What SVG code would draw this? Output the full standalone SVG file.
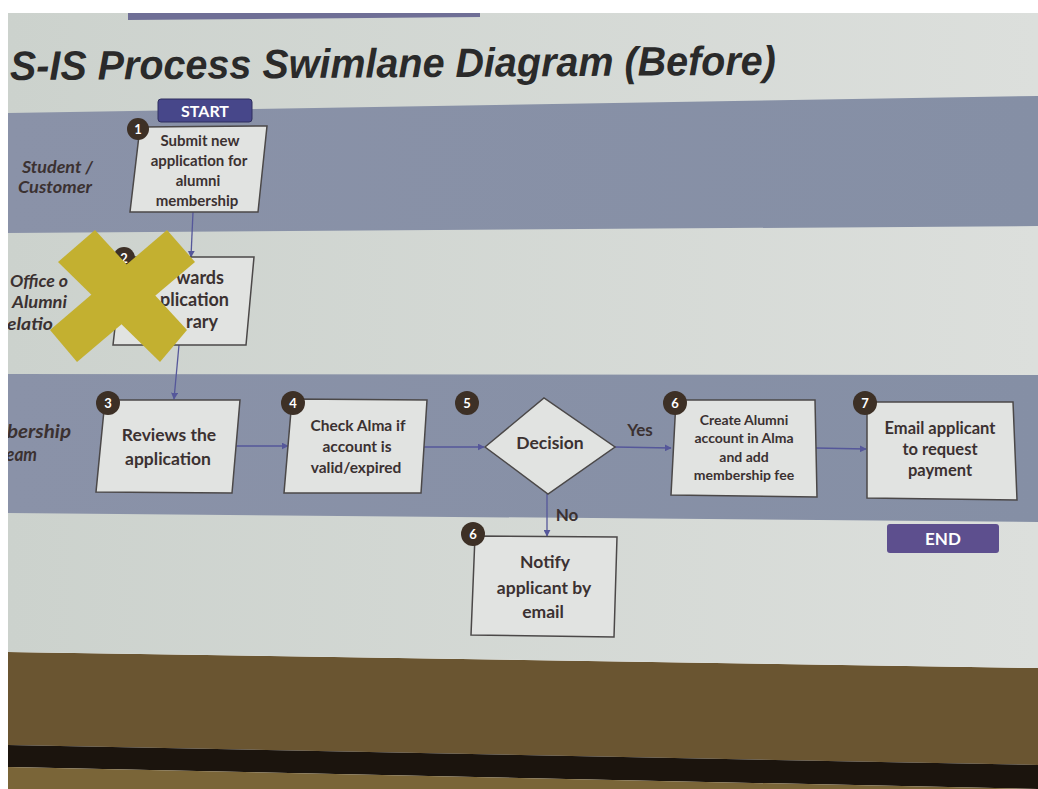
<svg xmlns="http://www.w3.org/2000/svg" width="1038" height="789" viewBox="0 0 1038 789">
<defs>
  <linearGradient id="scr" x1="0" y1="0" x2="1" y2="0">
    <stop offset="0" stop-color="#ccd2cd"/>
    <stop offset="1" stop-color="#dcdfdc"/>
  </linearGradient>
  <linearGradient id="laneDark" x1="0" y1="0" x2="1" y2="0">
    <stop offset="0" stop-color="#8a92a8"/>
    <stop offset="1" stop-color="#858fa5"/>
  </linearGradient>
  <clipPath id="screenClip"><polygon points="8,13 1038,13 1038,668 8,652"/></clipPath>
  <marker id="arr" viewBox="0 0 10 10" refX="9" refY="5" markerWidth="7" markerHeight="7" orient="auto" markerUnits="userSpaceOnUse">
    <path d="M0,0 L10,5 L0,10 z" fill="#55579a"/>
  </marker>
  <style>
    .box{fill:#e1e3e1;stroke:#4b4848;stroke-width:1.5}
    .txt{font-family:Lato,"Open Sans","Liberation Sans",sans-serif;font-weight:bold;fill:#3b3131;text-anchor:middle}
    .lane{font-family:Lato,"Open Sans","Liberation Sans",sans-serif;font-weight:bold;font-style:italic;fill:#3b3131}
    .badge{fill:#3d3026}
    .btxt{font-family:Lato,"Open Sans","Liberation Sans",sans-serif;font-weight:bold;fill:#ffffff;text-anchor:middle}
    .con{stroke:#55579a;stroke-width:1.3;fill:none}
    .xbar{fill:#c3b030}
  </style>
</defs>

<!-- room / wall -->
<rect x="0" y="0" width="1038" height="789" fill="#ffffff"/>
<polygon points="8,652 1038,668 1038,765 8,745" fill="#6a5531"/>
<polygon points="8,745 1038,765 1038,789 8,767" fill="#1b140d"/>
<polygon points="8,767 1038,789 8,789" fill="#7a6538"/>

<!-- screen -->
<polygon points="8,13 1038,13 1038,668 8,652" fill="url(#scr)"/>
<polygon points="128,13 480,13 480,17 128,20" fill="#6f6f96"/>

<g clip-path="url(#screenClip)">
  <!-- lanes -->
  <polygon id="lane1" points="8,113 1038,96 1038,226 8,233" fill="url(#laneDark)"/>
  <polygon id="lane3" points="8,374 1038,375 1038,522 8,513" fill="url(#laneDark)"/>

  <!-- title -->
  <text x="10" y="80" transform="rotate(-0.4 10 80)" font-family="'Liberation Sans',Arial,sans-serif" font-weight="bold" font-style="italic" font-size="41" fill="#2a2a2a" textLength="766" lengthAdjust="spacingAndGlyphs">S-IS Process Swimlane Diagram (Before)</text>

  <!-- lane labels -->
  <text class="lane" style="font-size:17px" x="22" y="173" textLength="71" lengthAdjust="spacingAndGlyphs">Student /</text>
  <text class="lane" style="font-size:17px" x="18" y="193" textLength="74" lengthAdjust="spacingAndGlyphs">Customer</text>
  <text class="lane" style="font-size:17px" x="10" y="287" textLength="58" lengthAdjust="spacingAndGlyphs">Office o</text>
  <text class="lane" style="font-size:17px" x="12" y="308" textLength="55" lengthAdjust="spacingAndGlyphs">Alumni</text>
  <text class="lane" style="font-size:17px" x="7" y="330" textLength="46" lengthAdjust="spacingAndGlyphs">elatio</text>
  <text class="lane" style="font-size:18px" x="7" y="438" textLength="64" lengthAdjust="spacingAndGlyphs">bership</text>
  <text class="lane" style="font-size:18px" x="6" y="461" textLength="31" lengthAdjust="spacingAndGlyphs">eam</text>
</g>

<!-- connectors -->
<g id="connectors">
  <line class="con" x1="193" y1="212" x2="191" y2="257" marker-end="url(#arr)"/>
  <line class="con" x1="179" y1="345" x2="174" y2="399" marker-end="url(#arr)"/>
  <line class="con" x1="236" y1="446" x2="288" y2="446" marker-end="url(#arr)"/>
  <line class="con" x1="424" y1="447" x2="484" y2="447" marker-end="url(#arr)"/>
  <line class="con" x1="615" y1="447" x2="671" y2="448" marker-end="url(#arr)"/>
  <line class="con" x1="816" y1="448" x2="866" y2="449" marker-end="url(#arr)"/>
  <line class="con" x1="547" y1="494" x2="547" y2="536" marker-end="url(#arr)"/>
  <text class="txt" style="font-size:17px" x="640" y="436">Yes</text>
  <text class="txt" style="font-size:17px" x="567" y="521">No</text>
</g>

<!-- START -->
<g id="start">
  <rect x="158" y="99" width="94" height="23" rx="3" fill="#47478a" stroke="#2e2e5e" stroke-width="1"/>
  <text x="205" y="117" class="btxt" style="font-size:16px">START</text>
</g>

<!-- node 1 -->
<g id="node1">
  <polygon class="box" points="140,127 267,126 258,212 130,212"/>
  <circle class="badge" cx="138" cy="129" r="11"/>
  <text class="btxt" style="font-size:13px" x="138" y="134">1</text>
  <text class="txt" style="font-size:15px"><tspan x="200" y="146">Submit new</tspan><tspan x="199" y="166">application for</tspan><tspan x="198" y="186">alumni</tspan><tspan x="197" y="206">membership</tspan></text>
</g>

<!-- node 2 -->
<g id="node2">
  <polygon class="box" points="123,257 254,257 246,345 113,345"/>
  <circle class="badge" cx="124" cy="258" r="11"/>
  <text class="btxt" style="font-size:13px" x="124" y="263">2</text>
  <text class="txt" style="font-size:18px;text-anchor:end" x="224" y="284">wards</text>
  <text class="txt" style="font-size:18px;text-anchor:end" x="229" y="306">plication</text>
  <text class="txt" style="font-size:18px;text-anchor:end" x="218" y="328">rary</text>
</g>

<!-- node 3 -->
<g id="node3">
  <polygon class="box" points="105,400 240,400 232,493 96,492"/>
  <circle class="badge" cx="108" cy="403" r="12"/>
  <text class="btxt" style="font-size:13px" x="108" y="408">3</text>
  <text class="txt" style="font-size:17.5px"><tspan x="169" y="441">Reviews the</tspan><tspan x="168" y="465">application</tspan></text>
</g>

<!-- node 4 -->
<g id="node4">
  <polygon class="box" points="292,399 427,400 421,493 284,493"/>
  <circle class="badge" cx="293" cy="403" r="12"/>
  <text class="btxt" style="font-size:13px" x="293" y="408">4</text>
  <text class="txt" style="font-size:15.5px"><tspan x="358" y="431">Check Alma if</tspan><tspan x="357" y="452">account is</tspan><tspan x="356" y="473">valid/expired</tspan></text>
</g>

<!-- node 5 decision -->
<g id="node5">
  <polygon class="box" points="485,447 544,398 615,447 548,494"/>
  <circle class="badge" cx="467" cy="403" r="12"/>
  <text class="btxt" style="font-size:13px" x="467" y="408">5</text>
  <text class="txt" style="font-size:17.5px" x="550" y="449">Decision</text>
</g>

<!-- node 6 create -->
<g id="node6a">
  <polygon class="box" points="676,400 815,400 817,497 671,495"/>
  <circle class="badge" cx="675" cy="403" r="12"/>
  <text class="btxt" style="font-size:13px" x="675" y="408">6</text>
  <text class="txt" style="font-size:14px"><tspan x="744" y="425">Create Alumni</tspan><tspan x="744" y="443">account in Alma</tspan><tspan x="744" y="462">and add</tspan><tspan x="744" y="480">membership fee</tspan></text>
</g>

<!-- node 7 -->
<g id="node7">
  <polygon class="box" points="867,402 1013,402 1017,500 867,498"/>
  <circle class="badge" cx="865" cy="403" r="12"/>
  <text class="btxt" style="font-size:13px" x="865" y="408">7</text>
  <text class="txt" style="font-size:16.5px"><tspan x="940" y="434">Email applicant</tspan><tspan x="940" y="455">to request</tspan><tspan x="940" y="476">payment</tspan></text>
</g>

<!-- END -->
<g id="end">
  <rect x="887" y="524" width="112" height="29" rx="3" fill="#5d4f8e"/>
  <text x="943" y="545" class="btxt" style="font-size:17px">END</text>
</g>

<!-- node 6 notify -->
<g id="node6b">
  <polygon class="box" points="475,536 617,537 614,637 471,635"/>
  <circle class="badge" cx="473" cy="534" r="12"/>
  <text class="btxt" style="font-size:13px" x="473" y="539">6</text>
  <text class="txt" style="font-size:17.5px"><tspan x="545" y="568">Notify</tspan><tspan x="544" y="594">applicant by</tspan><tspan x="543" y="618">email</tspan></text>
</g>

<!-- yellow cross overlay -->
<g id="cross">
  <polygon class="xbar" points="95,230 187,330 160,362 58,262"/>
  <polygon class="xbar" points="167,230 195,262 77,362 50,330"/>
</g>
</svg>
